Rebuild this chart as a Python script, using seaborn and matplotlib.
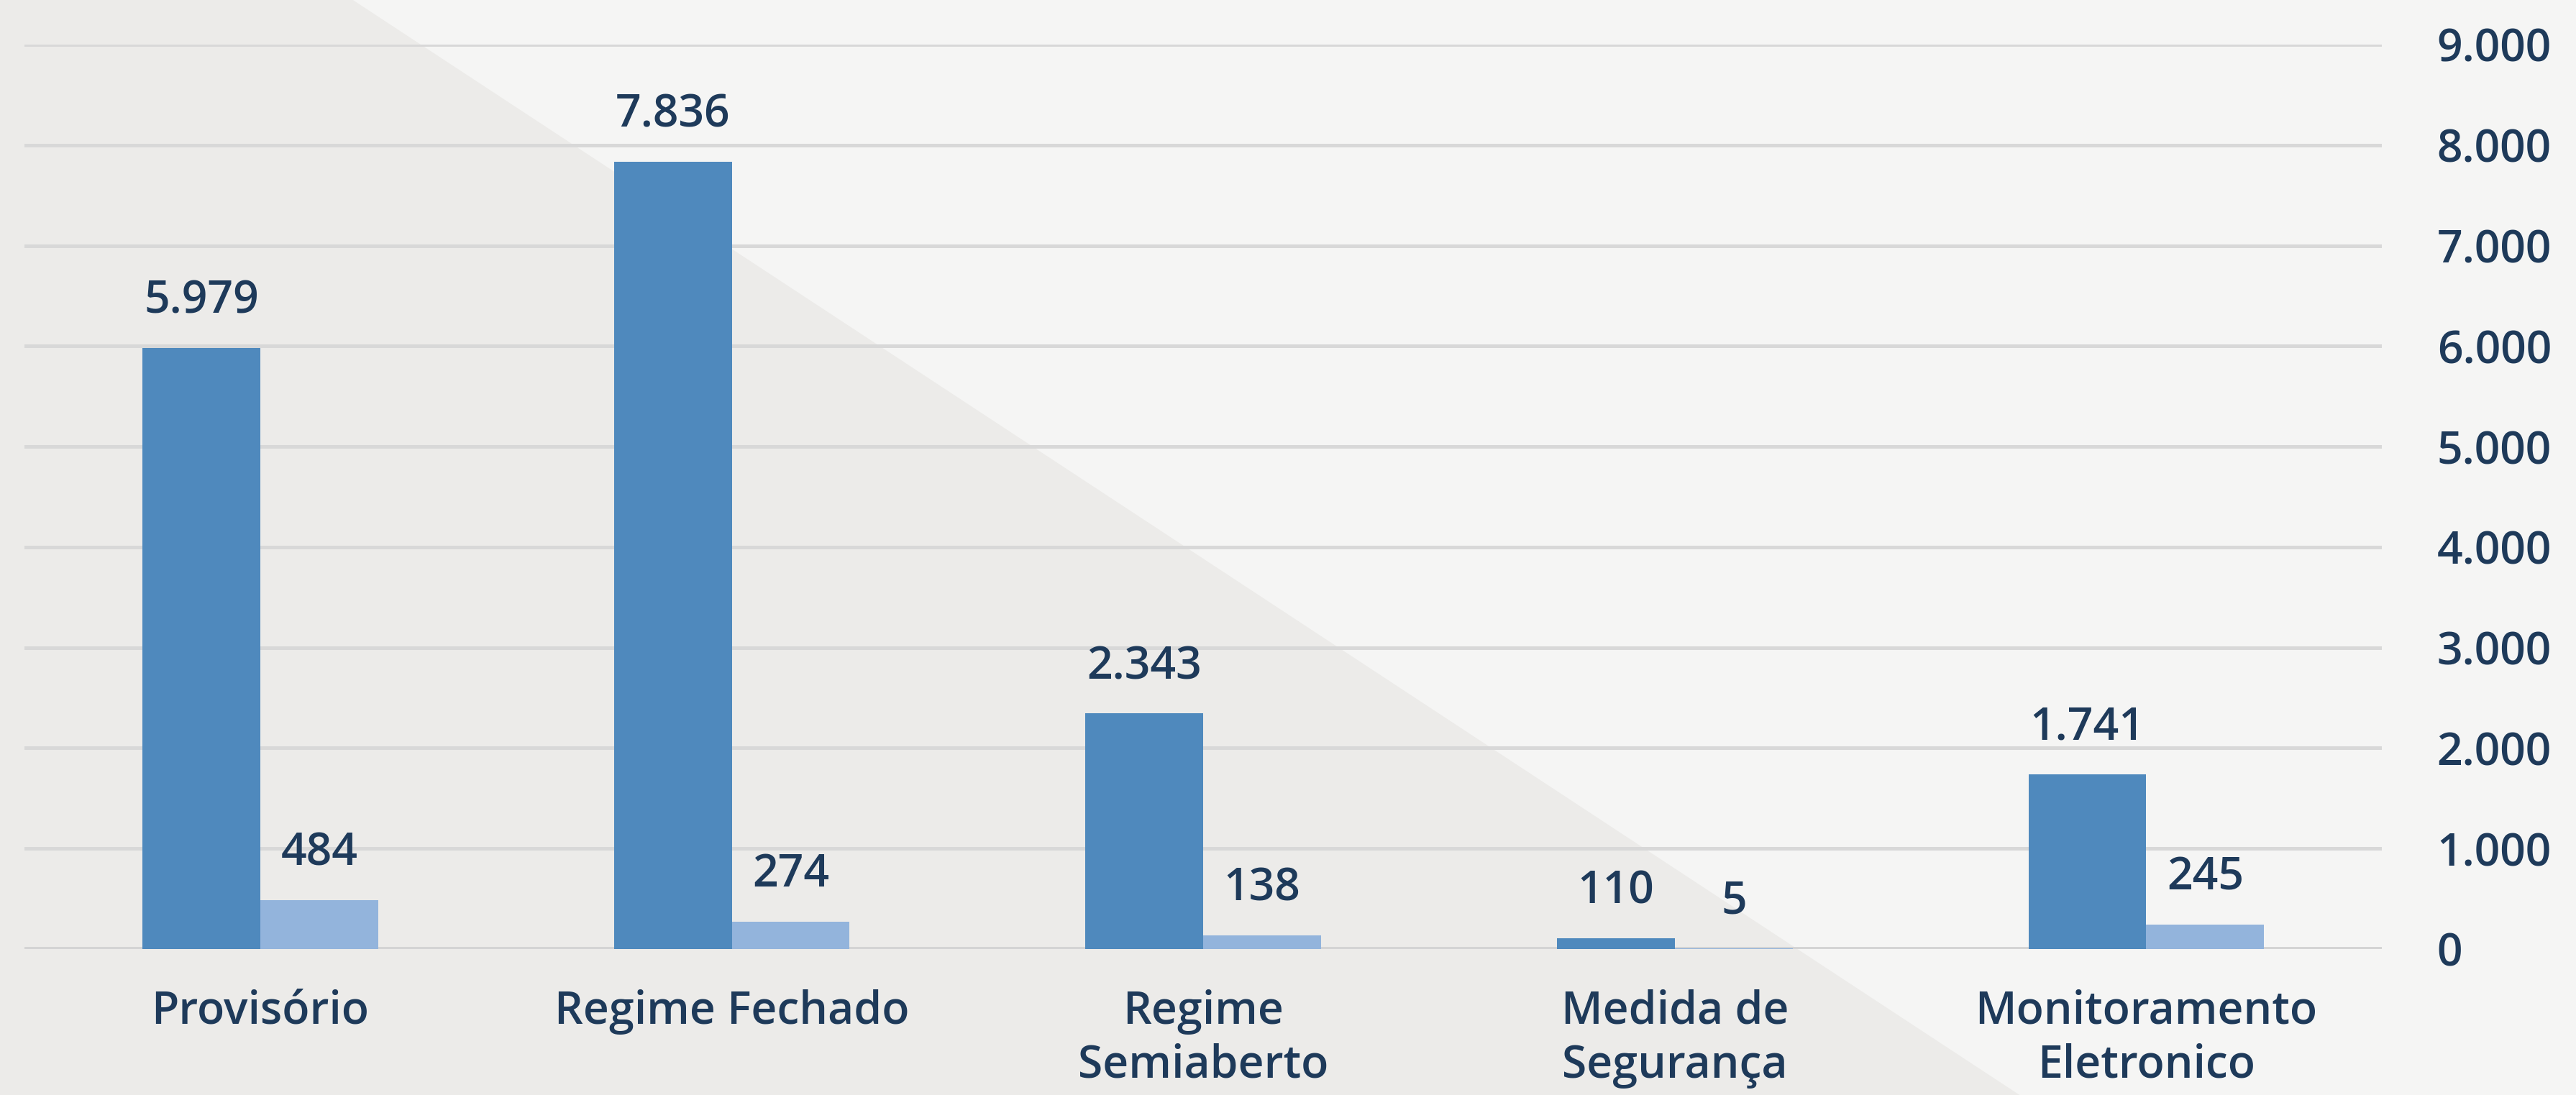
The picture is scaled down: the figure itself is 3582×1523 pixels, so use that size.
import pandas as pd
import seaborn as sns
import matplotlib.pyplot as plt
from matplotlib.patches import Polygon
from matplotlib.ticker import FuncFormatter

# dados
categorias = ['Provisório', 'Regime Fechado', 'Regime\nSemiaberto',
              'Medida de\nSegurança', 'Monitoramento\nEletronico']
serie_1 = [5979, 7836, 2343, 110, 1741]
serie_2 = [484, 274, 138, 5, 245]
nomes_series = ['Série 1', 'Série 2']
yticks = [0, 1000, 2000, 3000, 4000, 5000, 6000, 7000, 8000, 9000]

df = pd.DataFrame({
    'categoria': categorias * 2,
    'serie': [nomes_series[0]] * len(categorias) + [nomes_series[1]] * len(categorias),
    'valor': serie_1 + serie_2,
})

azul = '#4f89bd'
azul_claro = '#93b4dc'
texto = '#1e3a5a'
peso = 'semibold'

sns.set_theme(style='white')
plt.rcParams['font.family'] = ['Open Sans', 'DejaVu Sans']

fig = plt.figure(figsize=(35.82, 15.23), dpi=100, facecolor='#f5f5f4')
# fundo com diagonal
fig.patches.append(Polygon([(0, 0), (0, 1), (0.137, 1), (0.784, 0)], closed=True,
                           transform=fig.transFigure, facecolor='#ecebe9',
                           edgecolor='none', zorder=-10))

ax = fig.add_axes([0.0095, 0.1333, 0.9152, 0.826])
ax.set_facecolor('none')

sns.barplot(data=df, x='categoria', y='valor', hue='serie', ax=ax,
            palette=[azul, azul_claro], width=0.5, gap=0, saturation=1,
            legend=False, zorder=3, linewidth=0)

for c in ax.containers:
    ax.bar_label(c, labels=[f'{v:,.0f}'.replace(',', '.') for v in c.datavalues],
                 padding=24, fontsize=45, color=texto, fontweight=peso)

ax.set_xlim(-0.5, 4.5)
ax.set_ylim(0, 9000)
ax.set_yticks(yticks)
ax.yaxis.set_major_formatter(FuncFormatter(lambda v, p: f'{v:,.0f}'.replace(',', '.')))
ax.yaxis.tick_right()
ax.grid(axis='y', color='#d8d8d8', linewidth=3.6, zorder=0)
ax.set_axisbelow(True)
ax.axhline(0, color='#d4d4d4', linewidth=5, zorder=1)

ax.tick_params(axis='y', length=0, pad=55, labelsize=45, labelcolor=texto)
ax.tick_params(axis='x', length=0, pad=40, labelsize=45, labelcolor=texto)
for t in ax.get_xticklabels() + ax.get_yticklabels():
    t.set_fontweight(peso)
for t in ax.get_xticklabels():
    t.set_linespacing(1.25)
    t.set_verticalalignment('top')

ax.set_xlabel('')
ax.set_ylabel('')
sns.despine(ax=ax, left=True, bottom=True, right=True, top=True)

fig.savefig('out.png', dpi=100, facecolor=fig.get_facecolor())
